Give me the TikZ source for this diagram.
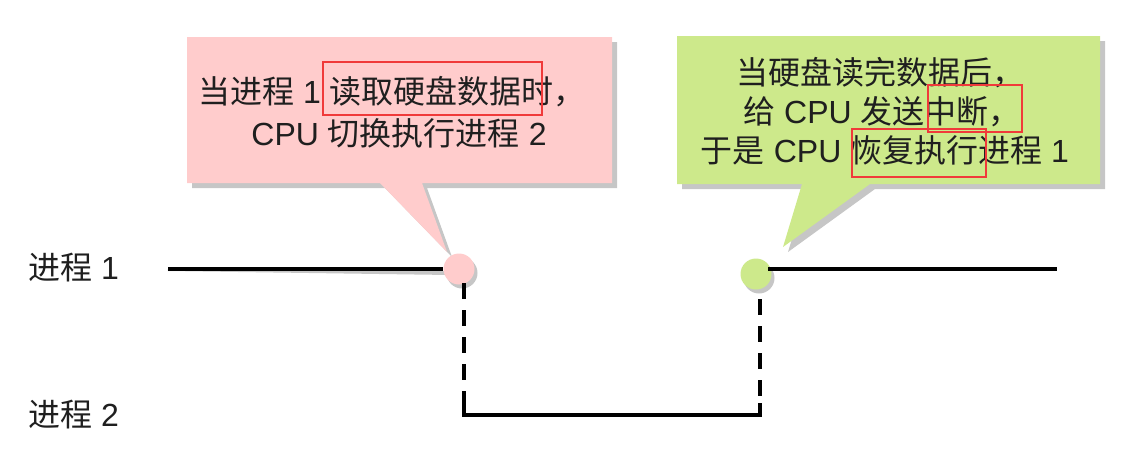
\documentclass[tikz,border=0pt]{standalone}
\usepackage{fontspec}
\setmainfont{Noto Sans CJK SC}
\newfontfamily\latn{Liberation Sans}
\usetikzlibrary{calc}
\definecolor{calloutpink}{HTML}{FFCCCC}
\definecolor{calloutgreen}{HTML}{CDE98B}
\definecolor{shadowgray}{HTML}{C6C6C6}
\definecolor{markred}{HTML}{F03A3A}
\newcommand{\lt}[1]{{\latn #1}}
\begin{document}
\begin{tikzpicture}[x=1pt,y=-1pt,
  txt/.style={font=\fontsize{32}{38}\selectfont, inner sep=0pt, text=black!88},
  dot/.style={circle, minimum size=31pt, inner sep=0pt},
  track/.style={line width=4pt, black},
  trackshadow/.style={line width=4pt, shadowgray},
  dashtrack/.style={dash pattern=on 16pt off 11pt},
  hlframe/.style={draw=markred, line width=2pt}]
\useasboundingbox (0,0) rectangle (1131,471);

% row labels
\node[txt, anchor=west] (lab1) at (28,268) {进程\lt{ 1}};
\node[txt, anchor=west] (lab2) at (28,415) {进程\lt{ 2}};

% callout shapes with their drop shadows
\fill[shadowgray, shift={(5,5)}] (187,37) -- (612,37) -- (612,183) -- (422,183)
  -- (447,252) -- (380,183) -- (187,183) -- cycle;
\fill[calloutpink] (187,37) -- (612,37) -- (612,183) -- (422,183)
  -- (447,252) -- (380,183) -- (187,183) -- cycle;
\fill[shadowgray, shift={(5,5)}] (677,36) -- (1100,36) -- (1100,184) -- (870,184)
  -- (783,247) -- (802,184) -- (677,184) -- cycle;
\fill[calloutgreen] (677,36) -- (1100,36) -- (1100,184) -- (870,184)
  -- (783,247) -- (802,184) -- (677,184) -- cycle;

% callout texts
\node[txt] (pinkA) at (392,92) {当进程\lt{ 1 }读取硬盘数据时，};
\node[txt] (pinkB) at (399,133) {\lt{CPU }切换执行进程\lt{ 2}};
\node[txt] (greenA) at (880,73) {当硬盘读完数据后，};
\node[txt] (greenB) at (882,112) {给\lt{ CPU }发送中断，};
\node[txt] (greenC) at (885,150) {于是\lt{ CPU }恢复执行进程\lt{ 1}};

% highlight frames
\draw[hlframe] (323,62) rectangle (542,115);
\draw[hlframe] (928,85) rectangle (1022,132);
\draw[hlframe] (852,129) rectangle (986,177);

% track anchor points
\coordinate (p1start) at (168,269);
\coordinate (p1end) at (1057,269);
\coordinate (pdown) at (464,283);
\coordinate (gdown) at (760,299);
\coordinate (pcorner) at (464,415);
\coordinate (gcorner) at (760,415);
\coordinate (pknee) at (464,403);
\coordinate (gknee) at (760,403);
\coordinate (gright) at (768,269);

% shadows of the tracks
\begin{scope}[shift={(3,4)}]
  \draw[trackshadow] (p1start) -- (447,269);
  \draw[trackshadow] (gright) -- (p1end);
  \draw[trackshadow, dashtrack] (pdown) -- (pknee);
  \draw[trackshadow, dashtrack] (gdown) -- (gknee);
  \draw[trackshadow] (pknee) -- (pcorner) -- (gcorner) -- (gknee);
  \fill[shadowgray] (459,269) circle (15.5);
  \fill[shadowgray] (756,274) circle (15.5);
\end{scope}

% event markers
\node[dot, fill=calloutpink] (pdot) at (459,269) {};
\node[dot, fill=calloutgreen] (gdot) at (756,274) {};

% tracks
\draw[track] (p1start) -- (pdot.west);
\draw[track] (gright) -- (p1end);
\draw[track, dashtrack] (pdown) -- (pknee);
\draw[track, dashtrack] (gdown) -- (gknee);
\draw[track] (pknee) -- (pcorner) -- (gcorner) -- (gknee);
\end{tikzpicture}
\end{document}
